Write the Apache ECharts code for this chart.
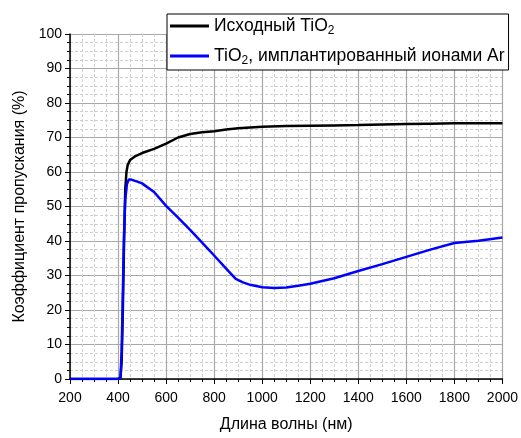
<!DOCTYPE html>
<html><head><meta charset="utf-8">
<script src="https://cdn.jsdelivr.net/npm/echarts@6/dist/echarts.min.js"></script>
<style>html,body{margin:0;padding:0;background:#fff}#c{width:521px;height:438px}</style>
</head><body><div id="c"></div>
<script>
const xTicks = [200,400,600,800,1000,1200,1400,1600,1800,2000];
const yTicks = [0,10,20,30,40,50,60,70,80,90,100];
const seriesNames = ['Исходный TiO2', 'TiO2, имплантированный ионами Ar'];
const pristine = [[200,0],[300,0],[400,0],[410,0.3],[415,5],[420,20],[425,40],[430,55],[435,60],[440,62],[450,63.5],[470,64.5],[500,65.5],[550,66.7],[600,68.2],[650,70],[700,71],[750,71.5],[800,71.8],[850,72.3],[900,72.7],[1000,73.1],[1100,73.3],[1200,73.4],[1300,73.5],[1400,73.6],[1500,73.8],[1600,73.9],[1700,74],[1800,74.1],[1900,74.1],[2000,74.1]];
const implanted = [[200,0],[300,0],[400,0],[410,0.3],[415,8],[420,25],[425,42],[430,52],[437,56.5],[445,57.8],[455,57.8],[480,57.2],[500,56.7],[550,54.2],[600,50.2],[650,46.8],[700,43.2],[750,39.5],[800,35.8],[850,32],[890,29],[920,28],[950,27.3],[1000,26.6],[1050,26.4],[1100,26.5],[1150,27],[1200,27.6],[1250,28.4],[1300,29.2],[1400,31.3],[1500,33.3],[1600,35.4],[1700,37.5],[1800,39.4],[1900,40.1],[2000,41]];

const chart = echarts.init(document.getElementById('c'), null, {renderer:'canvas'});
const font = '"Liberation Sans", Arial, sans-serif';
chart.setOption({
  animation:false,
  backgroundColor:'#fff',
  grid:{left:70,right:17,top:34,bottom:55},
  legend:{
    left:167, top:14, orient:'vertical', padding:[1,4,3,3],
    borderColor:'#000', borderWidth:1, backgroundColor:'#fff', borderRadius:0,
    icon:'rect', itemWidth:39, itemHeight:3, itemGap:8,
    data:seriesNames,
    formatter:function(n){
      if(n===seriesNames[0]) return '{a|Исходный TiO}{s|2}';
      return '{a|TiO}{s|2}{a|, имплантированный ионами Ar}';
    },
    textStyle:{fontFamily:font,color:'#000',
      rich:{a:{fontSize:17.5,fontFamily:font,color:'#000',lineHeight:22},
            s:{fontSize:12,fontFamily:font,color:'#000',lineHeight:22,padding:[10,0,0,0]}}}
  },
  xAxis:{type:'value',min:xTicks[0],max:xTicks[xTicks.length-1],interval:200,
    name:'Длина волны (нм)',nameLocation:'middle',nameGap:38,
    nameTextStyle:{fontFamily:font,fontSize:16,color:'#000'},
    axisLine:{show:true,onZero:false,lineStyle:{color:'#000',width:1.5}},
    axisTick:{show:true,length:5,lineStyle:{color:'#000'}},
    minorTick:{show:true,splitNumber:4,length:3,lineStyle:{color:'#000'}},
    axisLabel:{fontFamily:font,fontSize:14,color:'#000',margin:12,formatter:function(v){return String(v);}},
    splitLine:{show:true,lineStyle:{color:'#a8a8a8',width:1.2}},
    minorSplitLine:{show:true,lineStyle:{color:'#cfcfcf',type:[3,2],width:1}}
  },
  yAxis:{type:'value',min:yTicks[0],max:yTicks[yTicks.length-1],interval:10,
    name:'Коэффициент пропускания (%)',nameLocation:'middle',nameGap:42,
    nameTextStyle:{fontFamily:font,fontSize:16,color:'#000'},
    axisLine:{show:true,onZero:false,lineStyle:{color:'#000',width:1.5}},
    axisTick:{show:true,length:5,lineStyle:{color:'#000'}},
    minorTick:{show:true,splitNumber:4,length:3,lineStyle:{color:'#000'}},
    axisLabel:{fontFamily:font,fontSize:14,color:'#000',margin:8,formatter:function(v){return String(v);}},
    splitLine:{show:true,lineStyle:{color:'#a8a8a8',width:1.2}},
    minorSplitLine:{show:true,lineStyle:{color:'#cfcfcf',type:[3,2],width:1}}
  },
  series:[
    {name:seriesNames[0],type:'line',data:pristine,symbol:'none',smooth:false,
     lineStyle:{color:'#000',width:2.5},itemStyle:{color:'#000'},z:3},
    {name:seriesNames[1],type:'line',data:implanted,symbol:'none',smooth:false,
     lineStyle:{color:'#0000ff',width:2.5},itemStyle:{color:'#0000ff'},z:4}
  ]
});
</script></body></html>
